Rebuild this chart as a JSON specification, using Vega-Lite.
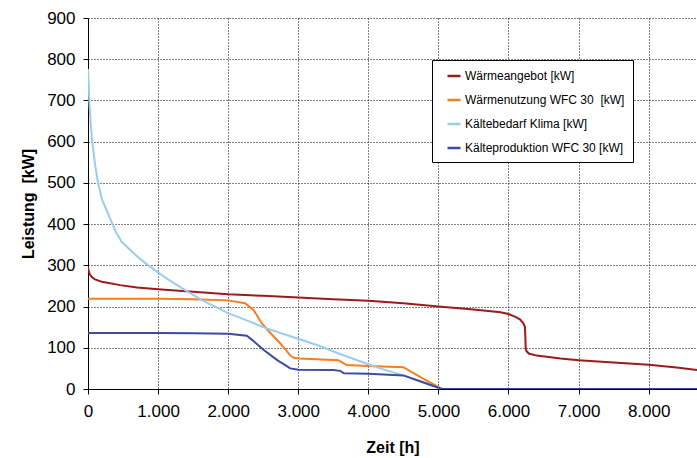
{
  "$schema": "https://vega.github.io/schema/vega-lite/v6.json",
  "width": 609,
  "height": 371,
  "autosize": {"type": "none"},
  "padding": {"left": 88, "top": 18, "right": 0, "bottom": 69},
  "background": "#ffffff",
  "config": {
    "font": "Liberation Sans",
    "view": {"stroke": null},
    "axis": {
      "labelFont": "Liberation Sans",
      "labelFontSize": 17,
      "labelColor": "#000",
      "titleFont": "Liberation Sans",
      "titleFontSize": 16,
      "titleFontWeight": "bold",
      "titleColor": "#000",
      "domainColor": "#000",
      "domainWidth": 1,
      "tickColor": "#000",
      "tickSize": 5,
      "grid": true,
      "gridColor": "#000",
      "gridDash": [1, 2],
      "gridWidth": 1
    }
  },
  "data": {
    "values": [
      {"Serie": "Wärmeangebot [kW]", "t": 0, "kW": 297},
      {"Serie": "Wärmeangebot [kW]", "t": 5, "kW": 290},
      {"Serie": "Wärmeangebot [kW]", "t": 20, "kW": 280},
      {"Serie": "Wärmeangebot [kW]", "t": 50, "kW": 272},
      {"Serie": "Wärmeangebot [kW]", "t": 100, "kW": 266},
      {"Serie": "Wärmeangebot [kW]", "t": 200, "kW": 260},
      {"Serie": "Wärmeangebot [kW]", "t": 457, "kW": 252},
      {"Serie": "Wärmeangebot [kW]", "t": 700, "kW": 246},
      {"Serie": "Wärmeangebot [kW]", "t": 1000, "kW": 242},
      {"Serie": "Wärmeangebot [kW]", "t": 1500, "kW": 236},
      {"Serie": "Wärmeangebot [kW]", "t": 2000, "kW": 230},
      {"Serie": "Wärmeangebot [kW]", "t": 2500, "kW": 226},
      {"Serie": "Wärmeangebot [kW]", "t": 3000, "kW": 222},
      {"Serie": "Wärmeangebot [kW]", "t": 3500, "kW": 218},
      {"Serie": "Wärmeangebot [kW]", "t": 4000, "kW": 214},
      {"Serie": "Wärmeangebot [kW]", "t": 4500, "kW": 208},
      {"Serie": "Wärmeangebot [kW]", "t": 5000, "kW": 200},
      {"Serie": "Wärmeangebot [kW]", "t": 5500, "kW": 193},
      {"Serie": "Wärmeangebot [kW]", "t": 5886, "kW": 186},
      {"Serie": "Wärmeangebot [kW]", "t": 6000, "kW": 182},
      {"Serie": "Wärmeangebot [kW]", "t": 6100, "kW": 175},
      {"Serie": "Wärmeangebot [kW]", "t": 6163, "kW": 169},
      {"Serie": "Wärmeangebot [kW]", "t": 6210, "kW": 160},
      {"Serie": "Wärmeangebot [kW]", "t": 6235, "kW": 151},
      {"Serie": "Wärmeangebot [kW]", "t": 6240, "kW": 130},
      {"Serie": "Wärmeangebot [kW]", "t": 6245, "kW": 100},
      {"Serie": "Wärmeangebot [kW]", "t": 6255, "kW": 92},
      {"Serie": "Wärmeangebot [kW]", "t": 6290, "kW": 86},
      {"Serie": "Wärmeangebot [kW]", "t": 6400, "kW": 81},
      {"Serie": "Wärmeangebot [kW]", "t": 6548, "kW": 78},
      {"Serie": "Wärmeangebot [kW]", "t": 6743, "kW": 74},
      {"Serie": "Wärmeangebot [kW]", "t": 7000, "kW": 70},
      {"Serie": "Wärmeangebot [kW]", "t": 7500, "kW": 64},
      {"Serie": "Wärmeangebot [kW]", "t": 8000, "kW": 59},
      {"Serie": "Wärmeangebot [kW]", "t": 8400, "kW": 52},
      {"Serie": "Wärmeangebot [kW]", "t": 8690, "kW": 46},

      {"Serie": "Wärmenutzung WFC 30  [kW]", "t": 0, "kW": 219},
      {"Serie": "Wärmenutzung WFC 30  [kW]", "t": 1000, "kW": 219},
      {"Serie": "Wärmenutzung WFC 30  [kW]", "t": 1500, "kW": 218},
      {"Serie": "Wärmenutzung WFC 30  [kW]", "t": 2000, "kW": 215},
      {"Serie": "Wärmenutzung WFC 30  [kW]", "t": 2241, "kW": 208},
      {"Serie": "Wärmenutzung WFC 30  [kW]", "t": 2300, "kW": 200},
      {"Serie": "Wärmenutzung WFC 30  [kW]", "t": 2362, "kW": 192},
      {"Serie": "Wärmenutzung WFC 30  [kW]", "t": 2481, "kW": 159},
      {"Serie": "Wärmenutzung WFC 30  [kW]", "t": 2586, "kW": 139},
      {"Serie": "Wärmenutzung WFC 30  [kW]", "t": 2742, "kW": 111},
      {"Serie": "Wärmenutzung WFC 30  [kW]", "t": 2895, "kW": 80},
      {"Serie": "Wärmenutzung WFC 30  [kW]", "t": 2950, "kW": 75},
      {"Serie": "Wärmenutzung WFC 30  [kW]", "t": 3024, "kW": 74},
      {"Serie": "Wärmenutzung WFC 30  [kW]", "t": 3571, "kW": 70},
      {"Serie": "Wärmenutzung WFC 30  [kW]", "t": 3620, "kW": 65},
      {"Serie": "Wärmenutzung WFC 30  [kW]", "t": 3690, "kW": 58},
      {"Serie": "Wärmenutzung WFC 30  [kW]", "t": 4000, "kW": 56},
      {"Serie": "Wärmenutzung WFC 30  [kW]", "t": 4500, "kW": 53},
      {"Serie": "Wärmenutzung WFC 30  [kW]", "t": 4750, "kW": 28},
      {"Serie": "Wärmenutzung WFC 30  [kW]", "t": 5050, "kW": 0},
      {"Serie": "Wärmenutzung WFC 30  [kW]", "t": 8760, "kW": 0},

      {"Serie": "Kältebedarf Klima [kW]", "t": 0, "kW": 776},
      {"Serie": "Kältebedarf Klima [kW]", "t": 10, "kW": 740},
      {"Serie": "Kältebedarf Klima [kW]", "t": 18, "kW": 700},
      {"Serie": "Kältebedarf Klima [kW]", "t": 40, "kW": 640},
      {"Serie": "Kältebedarf Klima [kW]", "t": 61, "kW": 600},
      {"Serie": "Kältebedarf Klima [kW]", "t": 100, "kW": 545},
      {"Serie": "Kältebedarf Klima [kW]", "t": 138, "kW": 505},
      {"Serie": "Kältebedarf Klima [kW]", "t": 200, "kW": 460},
      {"Serie": "Kältebedarf Klima [kW]", "t": 250, "kW": 440},
      {"Serie": "Kältebedarf Klima [kW]", "t": 337, "kW": 405},
      {"Serie": "Kältebedarf Klima [kW]", "t": 400, "kW": 380},
      {"Serie": "Kältebedarf Klima [kW]", "t": 480, "kW": 357},
      {"Serie": "Kältebedarf Klima [kW]", "t": 600, "kW": 338},
      {"Serie": "Kältebedarf Klima [kW]", "t": 711, "kW": 320},
      {"Serie": "Kältebedarf Klima [kW]", "t": 858, "kW": 300},
      {"Serie": "Kältebedarf Klima [kW]", "t": 1000, "kW": 283},
      {"Serie": "Kältebedarf Klima [kW]", "t": 1142, "kW": 266},
      {"Serie": "Kältebedarf Klima [kW]", "t": 1357, "kW": 243},
      {"Serie": "Kältebedarf Klima [kW]", "t": 1619, "kW": 216},
      {"Serie": "Kältebedarf Klima [kW]", "t": 2000, "kW": 184},
      {"Serie": "Kältebedarf Klima [kW]", "t": 2300, "kW": 164},
      {"Serie": "Kältebedarf Klima [kW]", "t": 2548, "kW": 147},
      {"Serie": "Kältebedarf Klima [kW]", "t": 2976, "kW": 123},
      {"Serie": "Kältebedarf Klima [kW]", "t": 3300, "kW": 105},
      {"Serie": "Kältebedarf Klima [kW]", "t": 3595, "kW": 85},
      {"Serie": "Kältebedarf Klima [kW]", "t": 4000, "kW": 60},
      {"Serie": "Kältebedarf Klima [kW]", "t": 4167, "kW": 50},
      {"Serie": "Kältebedarf Klima [kW]", "t": 4500, "kW": 33},
      {"Serie": "Kältebedarf Klima [kW]", "t": 4800, "kW": 15},
      {"Serie": "Kältebedarf Klima [kW]", "t": 5050, "kW": 0},
      {"Serie": "Kältebedarf Klima [kW]", "t": 8760, "kW": 0},

      {"Serie": "Kälteproduktion WFC 30 [kW]", "t": 0, "kW": 136},
      {"Serie": "Kälteproduktion WFC 30 [kW]", "t": 1000, "kW": 136},
      {"Serie": "Kälteproduktion WFC 30 [kW]", "t": 1500, "kW": 135},
      {"Serie": "Kälteproduktion WFC 30 [kW]", "t": 2000, "kW": 134},
      {"Serie": "Kälteproduktion WFC 30 [kW]", "t": 2266, "kW": 129},
      {"Serie": "Kälteproduktion WFC 30 [kW]", "t": 2350, "kW": 118},
      {"Serie": "Kälteproduktion WFC 30 [kW]", "t": 2504, "kW": 95},
      {"Serie": "Kälteproduktion WFC 30 [kW]", "t": 2700, "kW": 70},
      {"Serie": "Kälteproduktion WFC 30 [kW]", "t": 2886, "kW": 50},
      {"Serie": "Kälteproduktion WFC 30 [kW]", "t": 3000, "kW": 47},
      {"Serie": "Kälteproduktion WFC 30 [kW]", "t": 3500, "kW": 46},
      {"Serie": "Kälteproduktion WFC 30 [kW]", "t": 3600, "kW": 44},
      {"Serie": "Kälteproduktion WFC 30 [kW]", "t": 3650, "kW": 38},
      {"Serie": "Kälteproduktion WFC 30 [kW]", "t": 4000, "kW": 37},
      {"Serie": "Kälteproduktion WFC 30 [kW]", "t": 4500, "kW": 33},
      {"Serie": "Kälteproduktion WFC 30 [kW]", "t": 4800, "kW": 15},
      {"Serie": "Kälteproduktion WFC 30 [kW]", "t": 5050, "kW": 0},
      {"Serie": "Kälteproduktion WFC 30 [kW]", "t": 8760, "kW": 0}
    ]
  },
  "mark": {"type": "line", "strokeWidth": 2, "clip": true, "interpolate": "linear"},
  "encoding": {
    "x": {
      "field": "t",
      "type": "quantitative",
      "scale": {"domain": [0, 8690], "nice": false, "zero": true},
      "axis": {
        "values": [0, 1000, 2000, 3000, 4000, 5000, 6000, 7000, 8000],
        "labelExpr": "replace(format(datum.value, ','), ',', '.')",
        "title": "Zeit [h]",
        "labelPadding": 9,
        "titlePadding": 20,
        "labelFlush": false,
        "labelOverlap": false
      }
    },
    "y": {
      "field": "kW",
      "type": "quantitative",
      "scale": {"domain": [0, 900], "nice": false},
      "axis": {
        "values": [0, 100, 200, 300, 400, 500, 600, 700, 800, 900],
        "title": "Leistung\u00a0 [kW]",
        "labelPadding": 8,
        "titlePadding": 10,
        "labelOverlap": false
      }
    },
    "color": {
      "field": "Serie",
      "type": "nominal",
      "sort": ["Wärmeangebot [kW]", "Wärmenutzung WFC 30  [kW]", "Kältebedarf Klima [kW]", "Kälteproduktion WFC 30 [kW]"],
      "scale": {
        "domain": ["Wärmeangebot [kW]", "Wärmenutzung WFC 30  [kW]", "Kältebedarf Klima [kW]", "Kälteproduktion WFC 30 [kW]"],
        "range": ["#9C1A1C", "#F47E22", "#99CCEE", "#3D4BA0"]
      },
      "legend": {
        "title": null,
        "orient": "none",
        "legendX": 344,
        "legendY": 42,
        "strokeColor": "#000",
        "fillColor": "#fff",
        "padding": 8,
        "symbolOffset": 6,
        "symbolType": "stroke",
        "symbolSize": 169,
        "symbolStrokeWidth": 2.5,
        "labelFont": "Liberation Sans",
        "labelFontSize": 12,
        "labelColor": "#000",
        "labelOffset": 3,
        "labelLimit": 300,
        "rowPadding": 10,
        "labelExpr": "replace(datum.label, 'WFC 30  ', 'WFC 30\u00a0 ')"
      }
    },
    "order": {"field": "t", "type": "quantitative"}
  }
}
